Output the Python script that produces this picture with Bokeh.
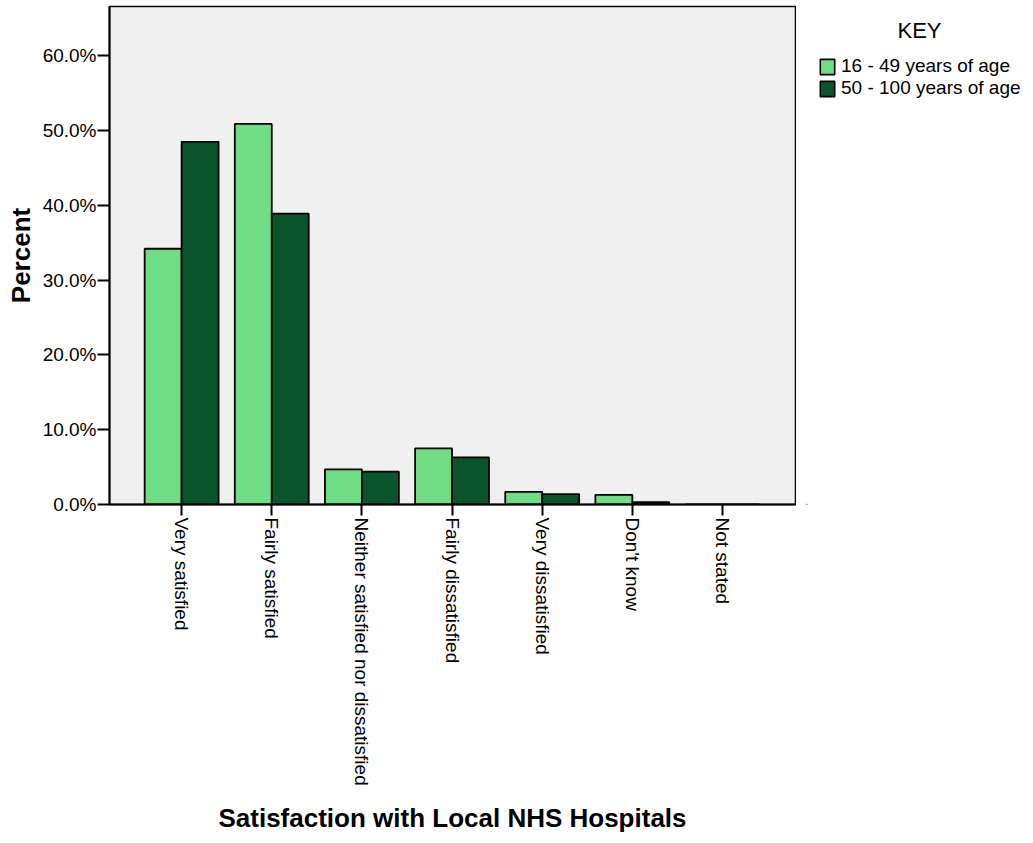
import math
from bokeh.plotting import figure
from bokeh.layouts import row
from bokeh.models import (ColumnDataSource, Range1d, FixedTicker, PrintfTickFormatter,
                          Legend, LegendItem)
from bokeh.embed import file_html
from bokeh.resources import INLINE

categories = ["Very satisfied", "Fairly satisfied", "Neither satisfied nor dissatisfied",
              "Fairly dissatisfied", "Very dissatisfied", "Don't know", "Not stated"]
age_16_49 = [34.2, 50.9, 4.7, 7.5, 1.7, 1.3, 0.0]
age_50_100 = [48.5, 38.9, 4.4, 6.3, 1.4, 0.3, 0.0]
series_names = ["16 - 49 years of age", "50 - 100 years of age"]
legend_title = "KEY"
y_ticks = [0, 10, 20, 30, 40, 50, 60]

LIGHT = "#70DD85"
DARK = "#0B552E"
FONT = "Liberation Sans"
H = 835

idx = list(range(len(categories)))
src = ColumnDataSource(dict(
    x1=[i - 0.205 for i in idx], x2=[i + 0.205 for i in idx],
    a=age_16_49, b=age_50_100))

p = figure(width=796, height=H, output_backend="svg", toolbar_location=None,
           x_range=Range1d(-0.8, 6.81), y_range=Range1d(0, 66.6),
           min_border_left=109, min_border_right=1, min_border_top=6,
           min_border_bottom=328)
p.background_fill_color = "#F0F0F0"
p.border_fill_color = "white"
p.outline_line_color = "black"
p.outline_line_width = 1.5
p.xgrid.visible = False
p.ygrid.visible = False

r1 = p.vbar(x="x1", top="a", width=0.41, bottom=0, source=src,
            fill_color=LIGHT, line_color="black", line_width=1.8)
r2 = p.vbar(x="x2", top="b", width=0.41, bottom=0, source=src,
            fill_color=DARK, line_color="black", line_width=1.8)

# Y axis
p.yaxis.ticker = FixedTicker(ticks=y_ticks)
p.yaxis.formatter = PrintfTickFormatter(format="%.1f%%")
p.yaxis.minor_tick_line_color = None
p.yaxis.major_tick_out = 12
p.yaxis.major_tick_in = 0
p.yaxis.major_tick_line_width = 2
p.yaxis.axis_line_width = 2
p.yaxis.major_label_standoff = 1
p.yaxis.major_label_text_font = FONT
p.yaxis.major_label_text_font_size = "19px"
p.yaxis.major_label_text_color = "black"
p.yaxis.axis_label = "Percent"
p.yaxis.axis_label_text_font = FONT
p.yaxis.axis_label_text_font_size = "26px"
p.yaxis.axis_label_text_font_style = "bold"
p.yaxis.axis_label_text_color = "black"
p.yaxis.axis_label_standoff = 4

# X axis
p.xaxis.ticker = FixedTicker(ticks=idx)
p.xaxis.major_label_overrides = {i: c for i, c in zip(idx, categories)}
p.xaxis.major_label_orientation = -math.pi / 2
p.xaxis.minor_tick_line_color = None
p.xaxis.major_tick_out = 11
p.xaxis.major_tick_in = 0
p.xaxis.major_tick_line_width = 2
p.xaxis.axis_line_width = 2
p.xaxis.major_label_standoff = 2
p.xaxis.major_label_text_font = FONT
p.xaxis.major_label_text_font_size = "19px"
p.xaxis.major_label_text_color = "black"
p.xaxis.axis_label = "Satisfaction with Local NHS Hospitals"
p.xaxis.axis_label_text_font = FONT
p.xaxis.axis_label_text_font_size = "26px"
p.xaxis.axis_label_text_font_style = "bold"
p.xaxis.axis_label_text_color = "black"
p.xaxis.axis_label_standoff = 14

# Key panel (a plain figure to the right holding the legend)
W2 = 229
k = figure(width=W2, height=H, output_backend="svg", toolbar_location=None,
           x_range=Range1d(0, 1), y_range=Range1d(0, 1),
           min_border=0, min_border_left=10, outline_line_color=None)
k.axis.visible = False
k.grid.visible = False
k.background_fill_color = "white"
k.border_fill_color = "white"
g1 = k.vbar(x=[-5], top=[-5], width=0.1, fill_color=LIGHT, line_color="black", line_width=1.6)
g2 = k.vbar(x=[-5], top=[-5], width=0.1, fill_color=DARK, line_color="black", line_width=1.6)

legend = Legend(items=[LegendItem(label=series_names[0], renderers=[g1]),
                       LegendItem(label=series_names[1], renderers=[g2])],
                title="\u00a0" * 13 + legend_title,
                title_text_font=FONT, title_text_font_size="22px",
                title_text_font_style="normal", title_text_color="black",
                title_standoff=11,
                location="top_left", padding=0, margin=12, spacing=0,
                glyph_width=18, glyph_height=19, label_height=19, label_standoff=5,
                label_text_font=FONT, label_text_font_size="19px",
                label_text_color="black",
                background_fill_alpha=0, border_line_color=None)
k.add_layout(legend, "center")

layout = row(p, k, spacing=0)
open("out.html", "w").write(file_html(layout, INLINE))
